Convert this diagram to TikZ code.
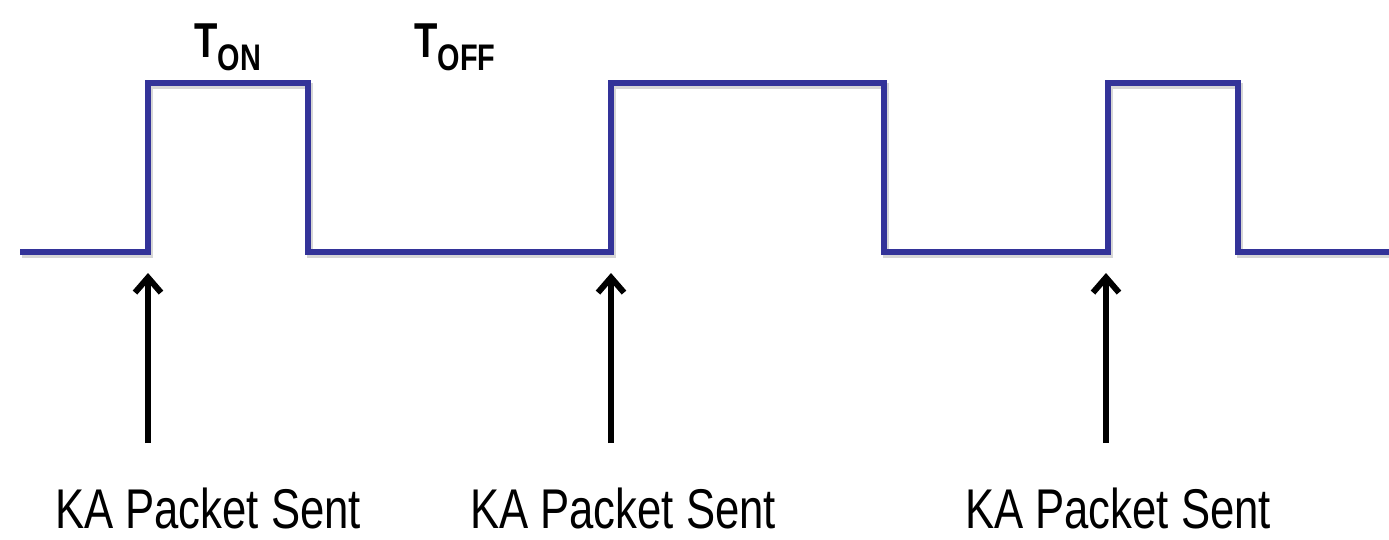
\documentclass[tikz,border=0pt]{standalone}
\usepackage{fontspec}
\setmainfont{Liberation Sans}
\newfontfamily\narrowsans[FakeStretch=0.78]{Liberation Sans}
\usetikzlibrary{arrows.meta}
\definecolor{wave}{RGB}{51,51,153}
\tikzset{
  signal/.style={draw=wave, line width=6pt, line join=miter},
  signalshadow/.style={draw=black!16, line width=6pt, line join=miter},
  marker/.style={draw=black, line width=6pt,
    -{Straight Barb[length=15pt,width=26pt,line width=6pt]}},
  caption/.style={font=\narrowsans\fontsize{56}{60}\selectfont, anchor=base, inner sep=0pt},
  timelabel/.style={font=\narrowsans\bfseries, anchor=base west, inner sep=0pt}
}
\newcommand{\tlabel}[1]{{\fontsize{49}{52}\selectfont T}\raisebox{-13pt}{\fontsize{37}{40}\selectfont #1}}
\begin{document}
\begin{tikzpicture}[x=1pt,y=-1pt]
\useasboundingbox (0,0) rectangle (1389,540);

% square wave (with a soft drop shadow)
\draw[signalshadow] (22,255) -- (150,255) -- (150,86) -- (310,86) -- (310,255)
  -- (613,255) -- (613,86) -- (886,86) -- (886,255) -- (1110,255) -- (1110,86)
  -- (1240,86) -- (1240,255) -- (1389,255);
\draw[signal] (20,252) -- (148,252) -- (148,83) -- (308,83) -- (308,252)
  -- (611,252) -- (611,83) -- (884,83) -- (884,252) -- (1108,252) -- (1108,83)
  -- (1238,83) -- (1238,252) -- (1389,252);

% period labels
\node[timelabel] (ton) at (194,58) {\tlabel{ON}};
\node[timelabel] (toff) at (414,58) {\tlabel{OFF}};

% packet markers
\coordinate (m1) at (148,443);
\coordinate (t1) at (148,273);
\coordinate (m2) at (611,443);
\coordinate (t2) at (611,273);
\coordinate (m3) at (1106,443);
\coordinate (t3) at (1106,273);
\draw[marker] (m1) -- (t1);
\draw[marker] (m2) -- (t2);
\draw[marker] (m3) -- (t3);

% captions
\node[caption] (c1) at (208,528) {KA Packet Sent};
\node[caption] (c2) at (623,528) {KA Packet Sent};
\node[caption] (c3) at (1118,528) {KA Packet Sent};
\end{tikzpicture}
\end{document}
